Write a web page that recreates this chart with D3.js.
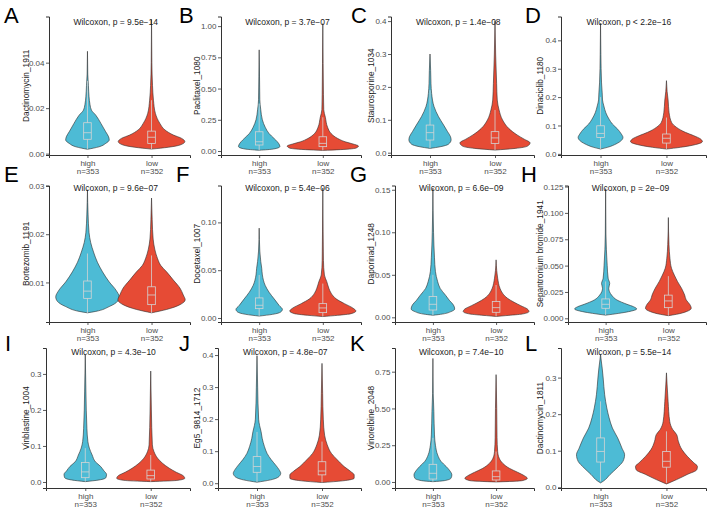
<!DOCTYPE html>
<html><head><meta charset="utf-8">
<script src="https://cdn.jsdelivr.net/npm/d3@7"></script>
<style>
body{margin:0;background:#fff}
svg text{font-family:"Liberation Sans",Arial,Helvetica,sans-serif}
</style></head>
<body><svg id="chart" width="709" height="509"></svg>
<script>
// ---------- data ----------
const letters = ["A","B","C","D","E","F","G","H","I","J","K","L"];
const drugNames = ["Dactinomycin_1911","Paclitaxel_1080","Staurosporine_1034","Dinaciclib_1180",
  "Bortezomib_1191","Docetaxel_1007","Daporinad_1248","Sepantronium bromide_1941",
  "Vinblastine_1004","Eg5_9814_1712","Vinorelbine_2048","Dactinomycin_1811"];
const pLabels = ["p = 9.5e\u221214","p = 3.7e\u221207","p = 1.4e\u221208","p < 2.2e\u221216",
  "p = 9.6e\u221207","p = 5.4e\u221206","p = 6.6e\u221209","p = 2e\u221209",
  "p = 4.3e\u221210","p = 4.8e\u221207","p = 7.4e\u221210","p = 5.5e\u221214"];
const testName = "Wilcoxon";
const groups = ["high","low"];
const groupN = ["n=353","n=352"];
const yTickLabels = [
  ["0.00","0.02","0.04"],
  ["0.00","0.25","0.50","0.75","1.00"],
  ["0.0","0.1","0.2","0.3","0.4"],
  ["0.0","0.1","0.2","0.3","0.4"],
  ["0.01","0.02","0.03"],
  ["0.00","0.05","0.10"],
  ["0.00","0.05","0.10","0.15"],
  ["0.000","0.025","0.050","0.075","0.100","0.125"],
  ["0.0","0.1","0.2","0.3"],
  ["0.0","0.1","0.2","0.3","0.4"],
  ["0.00","0.25","0.50","0.75"],
  ["0.0","0.1","0.2","0.3"]
];
const yLimits = [
  [-0.0006,0.0603],[-0.032,1.077],[-0.007,0.414],[-0.004,0.484],
  [0.0018,0.0301],[-0.0042,0.1386],[-0.0055,0.155],[-0.0035,0.126],
  [-0.0167,0.372],[-0.015,0.422],[-0.041,0.911],[-0.002,0.381]
];
// violin profiles: [value, relative density]
const highProfiles = [
  [[0.045,0],[0.035,0.01],[0.030,0.03],[0.025,0.05],[0.0215,0.08],[0.0191,0.125],[0.0169,0.26],[0.0133,0.42],[0.0096,0.57],[0.0074,0.66],[0.006,0.68],[0.0045,0.57],[0.003,0.36],[0.0019,0]],
  [[0.81,0],[0.6,0.01],[0.41,0.02],[0.33,0.05],[0.25,0.1],[0.19,0.19],[0.14,0.31],[0.10,0.47],[0.074,0.57],[0.048,0.64],[0.035,0.65],[0.016,0.45],[0.006,0]],
  [[0.30,0],[0.25,0.02],[0.21,0.03],[0.18,0.05],[0.14,0.125],[0.11,0.26],[0.084,0.42],[0.064,0.54],[0.049,0.63],[0.039,0.65],[0.026,0.57],[0.018,0.31],[0.013,0]],
  [[0.46,0],[0.35,0.01],[0.25,0.03],[0.215,0.05],[0.19,0.06],[0.169,0.1],[0.145,0.16],[0.122,0.26],[0.105,0.36],[0.087,0.52],[0.070,0.63],[0.058,0.68],[0.047,0.63],[0.035,0.47],[0.023,0.21],[0.017,0]],
  [[0.0292,0],[0.024,0.02],[0.0203,0.05],[0.0183,0.1],[0.0163,0.19],[0.0142,0.31],[0.0122,0.47],[0.0101,0.68],[0.0084,0.89],[0.007,0.99],[0.0061,0.94],[0.005,0.68],[0.004,0.26],[0.0037,0]],
  [[0.094,0],[0.07,0.02],[0.059,0.05],[0.052,0.08],[0.045,0.1],[0.034,0.19],[0.027,0.31],[0.020,0.47],[0.013,0.63],[0.009,0.73],[0.0063,0.68],[0.0038,0.42],[0.002,0]],
  [[0.152,0],[0.10,0.02],[0.07,0.05],[0.054,0.08],[0.042,0.15],[0.034,0.23],[0.026,0.4],[0.020,0.52],[0.0145,0.65],[0.0098,0.69],[0.0067,0.57],[0.0039,0.31],[0.0024,0]],
  [[0.123,0],[0.08,0.01],[0.05,0.05],[0.038,0.08],[0.033,0.13],[0.0285,0.1],[0.022,0.19],[0.0174,0.36],[0.0133,0.68],[0.011,0.89],[0.0089,0.99],[0.0063,0.73],[0.0047,0.42],[0.003,0]],
  [[0.353,0],[0.25,0.02],[0.149,0.05],[0.112,0.08],[0.094,0.125],[0.075,0.21],[0.056,0.31],[0.043,0.47],[0.031,0.57],[0.021,0.65],[0.012,0.63],[0.0056,0.42],[0.001,0]],
  [[0.398,0],[0.3,0.02],[0.2,0.05],[0.18,0.08],[0.161,0.125],[0.14,0.16],[0.114,0.23],[0.093,0.31],[0.073,0.44],[0.057,0.57],[0.042,0.68],[0.031,0.73],[0.021,0.68],[0.0104,0.42],[0.003,0]],
  [[0.84,0],[0.6,0.01],[0.48,0.03],[0.32,0.05],[0.25,0.08],[0.184,0.15],[0.139,0.26],[0.105,0.42],[0.075,0.54],[0.048,0.6],[0.025,0.57],[0.009,0.36],[0.002,0]],
  [[0.363,0],[0.34,0.03],[0.326,0.05],[0.299,0.08],[0.253,0.125],[0.217,0.19],[0.19,0.26],[0.162,0.36],[0.135,0.52],[0.107,0.65],[0.089,0.73],[0.071,0.68],[0.053,0.5],[0.035,0.29],[0.0164,0.08],[0.012,0]]
];
const lowProfiles = [
  [[0.059,0],[0.04,0.01],[0.03,0.03],[0.0235,0.06],[0.0177,0.12],[0.0133,0.26],[0.0104,0.42],[0.0082,0.68],[0.0067,0.94],[0.0053,1.04],[0.0038,0.89],[0.0028,0.52],[0.002,0]],
  [[1.02,0],[0.7,0.01],[0.45,0.02],[0.33,0.03],[0.27,0.08],[0.19,0.15],[0.14,0.26],[0.10,0.47],[0.074,0.7],[0.056,0.95],[0.04,1.12],[0.024,1.05],[0.011,0.55],[0.005,0]],
  [[0.40,0],[0.30,0.02],[0.21,0.05],[0.16,0.07],[0.13,0.125],[0.10,0.23],[0.074,0.42],[0.054,0.68],[0.041,0.9],[0.030,1.08],[0.020,1.0],[0.013,0.62],[0.008,0]],
  [[0.258,0],[0.22,0.02],[0.19,0.05],[0.145,0.08],[0.11,0.16],[0.093,0.31],[0.076,0.57],[0.064,0.83],[0.052,1.04],[0.043,1.09],[0.033,0.89],[0.023,0.42],[0.017,0]],
  [[0.0275,0],[0.023,0.02],[0.019,0.05],[0.0169,0.1],[0.0149,0.19],[0.0135,0.29],[0.0122,0.47],[0.0105,0.68],[0.0088,0.89],[0.0074,0.99],[0.0064,1.05],[0.0054,0.89],[0.0044,0.47],[0.0037,0]],
  [[0.136,0],[0.09,0.01],[0.06,0.02],[0.045,0.05],[0.038,0.125],[0.031,0.19],[0.026,0.26],[0.020,0.42],[0.015,0.68],[0.0105,0.94],[0.0073,1.04],[0.0045,0.89],[0.0028,0.47],[0.0015,0]],
  [[0.0676,0],[0.055,0.02],[0.046,0.05],[0.034,0.125],[0.028,0.21],[0.0224,0.36],[0.0177,0.57],[0.0137,0.78],[0.0098,0.99],[0.0067,1.04],[0.0039,0.83],[0.002,0.31],[0.001,0]],
  [[0.0956,0],[0.07,0.02],[0.057,0.05],[0.0475,0.1],[0.041,0.19],[0.035,0.29],[0.0285,0.42],[0.022,0.52],[0.0174,0.57],[0.0133,0.68],[0.0095,0.73],[0.0063,0.57],[0.0038,0.26],[0.0025,0]],
  [[0.308,0],[0.2,0.02],[0.103,0.05],[0.084,0.1],[0.066,0.21],[0.052,0.36],[0.038,0.57],[0.027,0.78],[0.0176,0.99],[0.0102,1.04],[0.0046,0.83],[0.001,0]],
  [[0.374,0],[0.28,0.02],[0.2,0.04],[0.15,0.08],[0.12,0.16],[0.093,0.29],[0.073,0.47],[0.052,0.68],[0.036,0.89],[0.026,0.99],[0.0156,0.99],[0.0073,0.63],[0.002,0]],
  [[0.73,0],[0.5,0.02],[0.3,0.03],[0.207,0.05],[0.161,0.1],[0.127,0.21],[0.093,0.42],[0.066,0.68],[0.043,0.89],[0.025,0.99],[0.009,0.83],[0.0,0]],
  [[0.313,0],[0.28,0.02],[0.235,0.05],[0.18,0.1],[0.158,0.19],[0.144,0.31],[0.126,0.36],[0.103,0.47],[0.085,0.63],[0.067,0.83],[0.057,0.94],[0.048,0.92],[0.035,0.63],[0.021,0.31],[0.012,0.08],[0.009,0]]
];
// boxes: [lower whisker, q1, median, q3, upper whisker]
const highBoxes = [
  [0.0019,0.0063,0.0092,0.0136,0.032],[0.006,0.048,0.074,0.154,0.38],[0.013,0.0385,0.061,0.084,0.19],[0.017,0.058,0.072,0.099,0.20],
  [0.0037,0.0067,0.0082,0.0103,0.016],[0.002,0.0098,0.0133,0.021,0.045],[0.0024,0.0086,0.0153,0.0244,0.05],[0.003,0.0095,0.0133,0.0184,0.035],
  [0.001,0.012,0.028,0.054,0.094],[0.003,0.034,0.052,0.083,0.16],[0.002,0.02,0.059,0.12,0.30],[0.016,0.069,0.098,0.135,0.235]
];
const lowBoxes = [
  [0.002,0.0045,0.0072,0.0099,0.0235],[0.005,0.035,0.061,0.114,0.27],[0.008,0.028,0.045,0.064,0.13],[0.017,0.038,0.055,0.070,0.128],
  [0.0037,0.0054,0.0074,0.0091,0.0156],[0.0015,0.0056,0.0105,0.015,0.036],[0.001,0.0059,0.0114,0.0185,0.038],[0.0025,0.0101,0.0165,0.022,0.04],
  [0.001,0.0083,0.0176,0.033,0.075],[0.002,0.026,0.038,0.067,0.13],[0.0,0.0136,0.036,0.075,0.207],[0.012,0.055,0.071,0.098,0.153]
];
const groupColors = ["#4DBBD5","#E64B35"];

// ---------- layout ----------
const colRight = [190,361,534,706];
const axisLeft = [49,221,391,561, 49,221,395,568, 46,218,395,561];
const rowTop = [16.5,185.5,348];
const rowBottom = [155,322,488];
const yTitleX = [25.5,196.7,370.7,540];
const letterX = [4,179,351,525, 4,176,350,521, 5,179,350,525];
const letterY = [23,182,351];
const titleY = [25,191,355];

const svg = d3.select("#chart");
const font = '"Liberation Sans",Arial,Helvetica,sans-serif';

letters.forEach((L,i)=>{
  const r = Math.floor(i/4), c = i%4;
  const top = rowTop[r], bottom = rowBottom[r], left = axisLeft[i], right = colRight[c];
  const x = d3.scalePoint().domain(groups).range([left,right]).padding(0.6);
  const y = d3.scaleLinear().domain(yLimits[i]).range([bottom,top]);
  const g = svg.append("g");
  const hw = x.step()*0.5;

  // violins
  [highProfiles[i], lowProfiles[i]].forEach((prof,gi)=>{
    const cx = x(groups[gi]);
    const area = d3.area().curve(d3.curveMonotoneY)
      .y(p=>y(p[0])).x0(p=>cx - p[1]*hw).x1(p=>cx + p[1]*hw);
    g.append("path").attr("d",area(prof))
      .attr("fill",groupColors[gi]).attr("stroke","#2b2b2b").attr("stroke-width",0.6);
  });
  // boxplots
  [highBoxes[i], lowBoxes[i]].forEach((b,gi)=>{
    const cx = x(groups[gi]), bw = 3.8;
    const bg = g.append("g").attr("stroke","#d4d4d4").attr("stroke-width",0.8).attr("fill","none");
    bg.append("line").attr("x1",cx).attr("x2",cx).attr("y1",y(b[3])).attr("y2",y(b[4]));
    bg.append("line").attr("x1",cx).attr("x2",cx).attr("y1",y(b[1])).attr("y2",y(b[0]));
    bg.append("rect").attr("x",cx-bw).attr("width",bw*2).attr("y",y(b[3])).attr("height",y(b[1])-y(b[3]));
    bg.append("line").attr("x1",cx-bw).attr("x2",cx+bw).attr("y1",y(b[2])).attr("y2",y(b[2]));
  });

  // axes
  const tickVals = yTickLabels[i].map(Number);
  const ya = g.append("g").attr("transform",`translate(${left},0)`)
    .call(d3.axisLeft(y).tickValues(tickVals).tickFormat((d,k)=>yTickLabels[i][k]).tickSizeOuter(0).tickSize(3).tickPadding(1.5));
  const xa = g.append("g").attr("transform",`translate(0,${bottom})`)
    .call(d3.axisBottom(x).tickSizeOuter(0).tickSize(3).tickPadding(1));
  [ya,xa].forEach(a=>{
    a.select(".domain").attr("stroke","#333").attr("stroke-width",1);
    a.selectAll(".tick line").attr("stroke","#333").attr("stroke-width",0.8);
    a.selectAll(".tick text").attr("fill","#4d4d4d").attr("font-size",8).attr("font-family",font);
  });
  xa.selectAll(".tick text").each(function(d,k){
    const t = d3.select(this).text(null).attr("dy",null).attr("y",0);
    t.append("tspan").attr("x",0).attr("y",11).text(groups[k]);
    t.append("tspan").attr("x",0).attr("y",18.5).text(groupN[k]);
  });

  // y title
  g.append("text").attr("transform",`translate(${yTitleX[c]},${(top+bottom)/2}) rotate(-90)`)
    .attr("text-anchor","middle").attr("dominant-baseline","central")
    .attr("font-size",8.3).attr("fill","#1a1a1a").text(drugNames[i]);
  // test label
  g.append("text").attr("x",x(groups[0])-14).attr("y",titleY[r])
    .attr("font-size",8.5).attr("fill","#1a1a1a").text(`${testName}, ${pLabels[i]}`);
  // panel letter
  svg.append("text").attr("x",letterX[i]).attr("y",letterY[r])
    .attr("font-size",22).attr("fill","#000").text(L);
});
</script></body></html>
